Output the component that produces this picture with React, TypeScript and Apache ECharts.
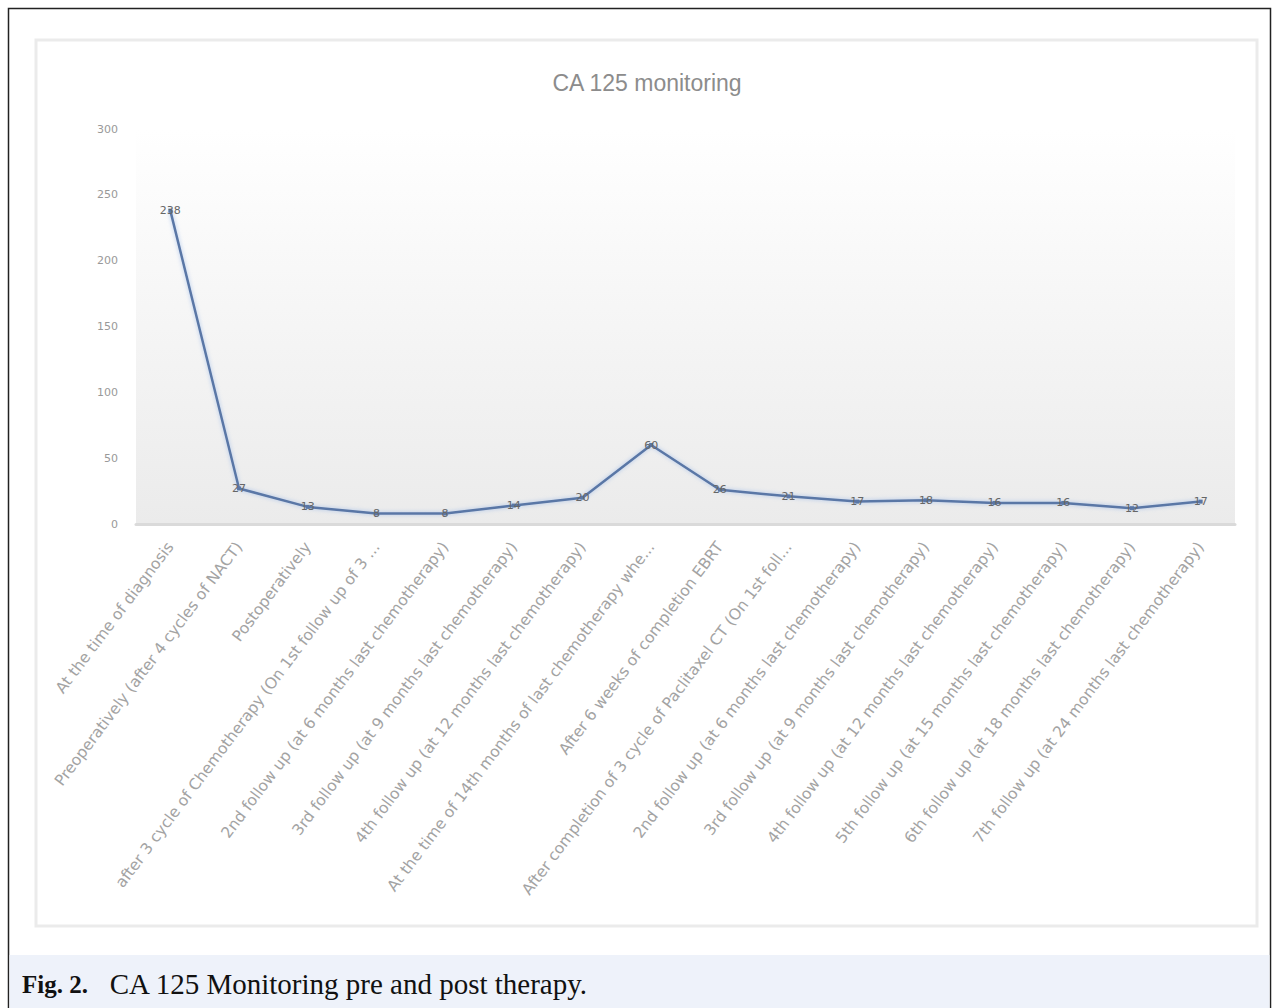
import React, { useEffect, useRef } from "react";
import * as echarts from "echarts";

const categories: string[] = [
  "At the time of diagnosis",
  "Preoperatively (after 4 cycles of NACT)",
  "Postoperatively",
  "after 3 cycle of Chemotherapy (On 1st follow up of 3 months last chemotherapy)",
  "2nd follow up (at 6 months last chemotherapy)",
  "3rd follow up (at 9 months last chemotherapy)",
  "4th follow up (at 12 months last chemotherapy)",
  "At the time of 14th months of last chemotherapy when recurrence detected",
  "After 6 weeks of completion EBRT",
  "After completion of 3 cycle of Paclitaxel CT (On 1st follow up)",
  "2nd follow up (at 6 months last chemotherapy)",
  "3rd follow up (at 9 months last chemotherapy)",
  "4th follow up (at 12 months last chemotherapy)",
  "5th follow up (at 15 months last chemotherapy)",
  "6th follow up (at 18 months last chemotherapy)",
  "7th follow up (at 24 months last chemotherapy)",
];

const ca125Values: number[] = [238, 27, 13, 8, 8, 14, 20, 60, 26, 21, 17, 18, 16, 16, 12, 17];

const yTicks = { min: 0, max: 300, interval: 50 };

const chartTitle = "CA 125 monitoring";
const captionBold = "Fig. 2.";
const captionText = "CA 125 Monitoring pre and post therapy.";

export default function App() {
  const ref = useRef<HTMLDivElement>(null);

  useEffect(() => {
    if (!ref.current) return;
    const chart = echarts.init(ref.current, null, { renderer: "svg" });
    chart.setOption({
      animation: false,
      backgroundColor: "#ffffff",
      graphic: [
        {
          type: "rect",
          z: -10,
          silent: true,
          shape: { x: 8.5, y: 8.5, width: 1262, height: 1020 },
          style: { fill: "#ffffff", stroke: "#222222", lineWidth: 1.5 },
        },
        {
          type: "rect",
          z: -9,
          silent: true,
          shape: { x: 9.5, y: 955, width: 1260, height: 60 },
          style: { fill: "#eef2fa" },
        },
        {
          type: "rect",
          z: -9,
          silent: true,
          shape: { x: 36, y: 40, width: 1221, height: 886 },
          style: { fill: "none", stroke: "#ebebeb", lineWidth: 3 },
        },
        {
          type: "text",
          x: 647,
          y: 83,
          style: {
            text: chartTitle,
            fill: "#8c8c8c",
            font: "23px 'Liberation Sans'",
            align: "center",
            verticalAlign: "middle",
          },
        },
        {
          type: "text",
          x: 22,
          y: 984,
          style: {
            text: "{b|" + captionBold + "}   " + captionText,
            fill: "#111111",
            fontFamily: "Liberation Serif",
            fontSize: 29,
            verticalAlign: "middle",
            rich: {
              b: {
                fontFamily: "Liberation Serif",
                fontSize: 25,
                fontWeight: "bold",
                fill: "#111111",
              },
            },
          },
        },
      ],
      grid: {
        left: 136,
        right: 38,
        top: 129,
        bottom: 484,
        show: true,
        borderWidth: 0,
        backgroundColor: new echarts.graphic.LinearGradient(0, 0, 0, 1, [
          { offset: 0, color: "#ffffff" },
          { offset: 1, color: "#ebebeb" },
        ]),
      },
      xAxis: {
        type: "category",
        data: categories,
        boundaryGap: true,
        axisLine: { show: true, lineStyle: { color: "#dadada", width: 3 } },
        axisTick: { show: false },
        axisLabel: {
          interval: 0,
          rotate: 53,
          margin: 20,
          color: "#a3a3a3",
          fontFamily: "DejaVu Sans",
          fontSize: 15.5,
          width: 440,
          overflow: "truncate",
          ellipsis: "...",
        },
        splitLine: { show: false },
      },
      yAxis: {
        type: "value",
        min: yTicks.min,
        max: yTicks.max,
        interval: yTicks.interval,
        axisLine: { show: false },
        axisTick: { show: false },
        splitLine: { show: false },
        axisLabel: {
          color: "#999999",
          fontFamily: "DejaVu Sans",
          fontSize: 11,
          margin: 18,
        },
      },
      series: [
        {
          type: "line",
          data: ca125Values,
          symbol: "rect",
          symbolSize: 4,
          itemStyle: { color: "#5a77a6" },
          lineStyle: {
            color: "#5a77a6",
            width: 2.5,
            shadowColor: "rgba(140,175,230,0.7)",
            shadowBlur: 4,
          },
          label: {
            show: true,
            position: "inside",
            color: "#666666",
            fontFamily: "DejaVu Sans",
            fontSize: 11,
          },
        },
      ],
    });
    return () => chart.dispose();
  }, []);

  return (
    <div
      ref={ref}
      style={{ position: "fixed", left: 0, top: 0, width: 1273, height: 1008 }}
    />
  );
}
